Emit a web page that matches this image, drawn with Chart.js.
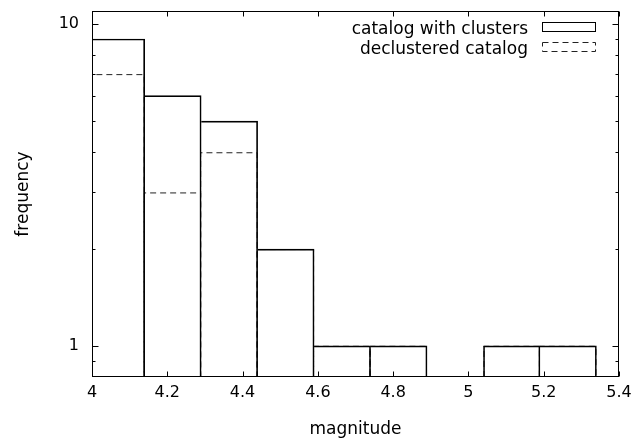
<!DOCTYPE html>
<html>
<head>
<meta charset="utf-8">
<script src="https://cdn.jsdelivr.net/npm/chart.js@4.4.0/dist/chart.umd.min.js"></script>
<style>
  html, body { margin: 0; padding: 0; background: #fff; }
  #wrap { width: 638px; height: 445px; }
</style>
</head>
<body>
<div id="wrap"><canvas id="histo"></canvas></div>
<script>
const binCenters = [4.065, 4.215, 4.365, 4.515, 4.665, 4.815, 4.965, 5.115, 5.265];
const withClusters = [9, 6, 5, 2, 1, 1, 0, 1, 1];
const declustered = [7, 3, 4, 2, 1, 1, 0, 1, 1];
const xTicks = [4, 4.2, 4.4, 4.6, 4.8, 5, 5.2, 5.4];
const yTicks = [1, 10];
const yMinorTicks = [0.9, 2, 3, 4, 5, 6, 7, 8, 9];
const seriesNames = ['catalog with clusters', 'declustered catalog'];

// empty bins can't go on a log axis, so they become null
function toPoints(counts) {
    return binCenters.map((m, i) => ({x: m, y: counts[i] > 0 ? counts[i] : null}));
}

Chart.defaults.font.family = 'DejaVu Sans';
Chart.defaults.font.size = 16;
Chart.defaults.color = '#000';

// declustered bars get a dashed outline, drawn before the solid ones
const dashedOutline = {
    id: 'dashedOutline',
    afterDatasetDraw(chart, args) {
        if (args.index !== 1) return;
        const {ctx, chartArea} = chart;
        ctx.save();
        ctx.beginPath();
        ctx.rect(chartArea.left, chartArea.top, chartArea.width, chartArea.height);
        ctx.clip();
        ctx.strokeStyle = '#222';
        ctx.lineWidth = 1;
        ctx.setLineDash([6, 4]);
        args.meta.data.forEach((bar, i) => {
            if (!(declustered[i] > 0)) return;
            const {x, y, base, width} = bar.getProps(['x', 'y', 'base', 'width'], true);
            const prevEmpty = i === 0 || !(declustered[i - 1] > 0);
            const l = x - width / 2 + (prevEmpty ? 0.5 : -0.5);
            const r = x + width / 2 - 0.5;
            ctx.beginPath();
            ctx.moveTo(l, base);
            ctx.lineTo(l, y + 0.5);
            ctx.lineTo(r, y + 0.5);
            ctx.lineTo(r, base);
            ctx.stroke();
        });
        ctx.restore();
    }
};

// gnuplot style box with inward ticks on all four sides
const frame = {
    id: 'frame',
    afterDraw(chart) {
        const {ctx, chartArea: a, scales} = chart;
        const l = Math.round(a.left) + 0.5, r = Math.round(a.right) - 0.5;
        const t = Math.round(a.top) + 0.5, b = Math.round(a.bottom) - 0.5;
        ctx.save();
        ctx.strokeStyle = '#000';
        ctx.lineWidth = 1;
        ctx.beginPath();
        xTicks.forEach(v => {
            const px = Math.round(scales.x.getPixelForValue(v)) + 0.5;
            ctx.moveTo(px, b); ctx.lineTo(px, b - 5);
            ctx.moveTo(px, t); ctx.lineTo(px, t + 5);
        });
        yTicks.forEach(v => {
            const py = Math.round(scales.y.getPixelForValue(v)) + 0.5;
            ctx.moveTo(l, py); ctx.lineTo(l + 6, py);
            ctx.moveTo(r, py); ctx.lineTo(r - 6, py);
        });
        yMinorTicks.forEach(v => {
            const py = Math.round(scales.y.getPixelForValue(v)) + 0.5;
            ctx.moveTo(l, py); ctx.lineTo(l + 3, py);
            ctx.moveTo(r, py); ctx.lineTo(r - 3, py);
        });
        ctx.stroke();
        ctx.strokeRect(l, t, r - l, b - t);
        ctx.restore();
    }
};

// legend in the top right corner: text first, sample box after it
const keyBox = {
    id: 'keyBox',
    afterDraw(chart) {
        const {ctx} = chart;
        const rows = [{base: 34, top: 22.5}, {base: 54, top: 42.5}];
        ctx.save();
        ctx.font = '17px "DejaVu Sans"';
        ctx.fillStyle = '#000';
        ctx.textAlign = 'right';
        ctx.textBaseline = 'alphabetic';
        chart.data.datasets.forEach((ds, i) => {
            ctx.fillText(ds.label, 528, rows[i].base);
            ctx.strokeStyle = i === 0 ? '#000' : '#222';
            ctx.lineWidth = 1;
            ctx.setLineDash(i === 0 ? [] : [6, 4]);
            ctx.strokeRect(542.5, rows[i].top, 53, 9);
        });
        ctx.restore();
    }
};

const ctx = document.getElementById('histo').getContext('2d');
const histo = new Chart(ctx, {
    type: 'bar',
    data: {
        datasets: [{
            label: seriesNames[0],
            data: toPoints(withClusters),
            backgroundColor: 'rgba(0,0,0,0)',
            borderColor: '#000',
            borderWidth: c => {
                const i = c.dataIndex;
                if (i === undefined) return 1;
                const prevEmpty = i === 0 || !(withClusters[i - 1] > 0);
                return {top: 1, right: 1, bottom: 0, left: prevEmpty ? 1 : 0};
            },
            borderSkipped: 'start',
            grouped: false,
            barPercentage: 1,
            categoryPercentage: 1
        }, {
            label: seriesNames[1],
            data: toPoints(declustered),
            backgroundColor: 'rgba(0,0,0,0)',
            borderWidth: 0,
            grouped: false,
            barPercentage: 1,
            categoryPercentage: 1
        }]
    },
    options: {
        responsive: true,
        maintainAspectRatio: false,
        animation: false,
        layout: {padding: {left: 0, top: 11, right: 19, bottom: 0}},
        plugins: {
            legend: {display: false},
            tooltip: {enabled: false}
        },
        scales: {
            x: {
                type: 'linear',
                min: 4,
                max: 5.4,
                offset: false,
                grid: {display: false, drawTicks: false, offset: false},
                border: {display: false},
                afterBuildTicks: s => { s.ticks = xTicks.map(v => ({value: v})); },
                afterFit: s => {
                    s.height = 68;
                    s.paddingLeft = 0;
                    s.paddingRight = 0;
                },
                ticks: {
                    padding: 6,
                    maxRotation: 0,
                    callback: v => String(v)
                },
                title: {
                    display: true,
                    text: 'magnitude',
                    font: {size: 17},
                    padding: {top: 0, bottom: 5}
                }
            },
            y: {
                type: 'logarithmic',
                min: 0.8,
                max: 11,
                grid: {display: false, drawTicks: false},
                border: {display: false},
                afterBuildTicks: s => { s.ticks = yTicks.map(v => ({value: v})); },
                afterFit: s => {
                    s.width = 92;
                    s.paddingTop = 0;
                    s.paddingBottom = 0;
                },
                ticks: {
                    padding: 13,
                    callback: v => String(v)
                },
                title: {
                    display: true,
                    text: 'frequency',
                    font: {size: 17},
                    padding: {top: 13, bottom: 0}
                }
            }
        }
    },
    plugins: [dashedOutline, frame, keyBox]
});
</script>
</body>
</html>
